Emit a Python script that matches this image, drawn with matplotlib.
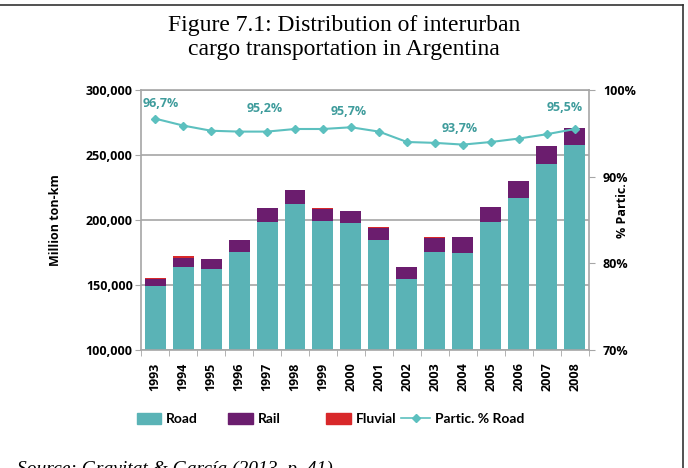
import matplotlib.pyplot as plt
import numpy as np
from matplotlib.lines import Line2D
from matplotlib.patches import Patch

# ===== DATA =====
years = ["1993", "1994", "1995", "1996", "1997", "1998", "1999", "2000",
         "2001", "2002", "2003", "2004", "2005", "2006", "2007", "2008"]
road = [149500, 164000, 162200, 175500, 198400, 212200, 199200, 198000,
        184700, 154300, 175500, 174700, 198400, 217200, 243400, 258000]
rail = [5000, 7000, 8000, 9000, 10500, 11000, 9000, 9000,
        9000, 9500, 11000, 12000, 11500, 12800, 13300, 12500]
fluvial = [1000, 1000, 100, 100, 100, 100, 1000, 100,
           1000, 100, 100, 100, 100, 100, 100, 100]
partic_road = [96.7, 95.9, 95.3, 95.2, 95.2, 95.5, 95.5, 95.7,
               95.2, 94.0, 93.9, 93.7, 94.0, 94.4, 94.9, 95.5]
labelled = {"1993": "96,7%", "1997": "95,2%", "2000": "95,7%",
            "2004": "93,7%", "2008": "95,5%"}
# label offsets from marker, in pixels (dx, dy up)
label_off = {"1993": (6, 15), "1997": (-2, 23), "2000": (-2, 16),
             "2004": (-3, 16), "2008": (-10, 21)}

# ===== STYLE =====
c_road = "#5ab3b6"
c_rail = "#6b1d6e"
c_fluv = "#d8282a"
c_line = "#5cc0bf"
c_lab = "#3f9c9c"
c_grid = "#a6a6a6"
sans = "Open Sans"
W, H = 688, 468

fig = plt.figure(figsize=(6.88, 4.68), dpi=100)
ax = fig.add_axes([0.205, 0.2521, 0.651, 0.5556])

x = np.arange(len(years))
road = np.array(road)
rail = np.array(rail)
fluvial = np.array(fluvial)
w = 0.75
ax.bar(x, road, w, color=c_road, zorder=2)
ax.bar(x, rail, w, bottom=road, color=c_rail, zorder=2)
ax.bar(x, fluvial, w, bottom=road + rail, color=c_fluv, zorder=2)

ax.set_ylim(100000, 300000)
ax.set_xlim(-0.5, len(years) - 0.5)
ax.set_yticks([100000, 150000, 200000, 250000, 300000])
ax.set_yticklabels([f"{v:,}" for v in ax.get_yticks()],
                   fontfamily=sans, fontweight="bold", fontsize=9)
ax.yaxis.grid(True, color=c_grid, linewidth=1.2, zorder=0)
ax.set_axisbelow(True)
ax.set_xticks(x)
ax.set_xticklabels(years, rotation=90, fontfamily=sans, fontweight="bold",
                   fontsize=9)
ax.set_xticks(np.arange(-0.5, len(years), 1), minor=True)
ax.tick_params(axis="x", which="major", length=0, pad=9)
ax.tick_params(axis="x", which="minor", length=4, color=c_grid)
ax.tick_params(axis="y", length=4, color=c_grid, pad=2)
for s in ax.spines.values():
    s.set_color(c_grid)
    s.set_linewidth(1.2)
ax.set_ylabel("Million ton-km", fontfamily=sans, fontweight="bold", fontsize=9)
ax.yaxis.set_label_coords(-0.176, 0.5)

# secondary axis for road share
ax2 = ax.twinx()
ax2.set_ylim(70, 100)
ax2.set_yticks([70, 80, 90, 100])
ax2.set_yticklabels([f"{v}%" for v in [70, 80, 90, 100]],
                    fontfamily=sans, fontweight="bold", fontsize=9)
ax2.tick_params(axis="y", length=4, color=c_grid, pad=6)
for s in ax2.spines.values():
    s.set_visible(False)
ax2.plot(x, partic_road, color=c_line, linewidth=1.5, marker="D",
         markersize=4.5, zorder=3)
for i, yr in enumerate(years):
    if yr in labelled:
        dx, dy = label_off[yr]
        ax2.annotate(labelled[yr], (x[i], partic_road[i]),
                     xytext=(dx * 0.72, dy * 0.72),
                     textcoords="offset points", ha="center", va="center",
                     color=c_lab, fontfamily=sans, fontweight="bold",
                     fontsize=9)
ax2.set_ylabel("% Partic.", fontfamily=sans, fontweight="bold", fontsize=9,
               rotation=90)
ax2.yaxis.set_label_coords(1.06, 0.538)

# Title
fig.text(0.5, 0.968, "Figure 7.1: Distribution of interurban\ncargo transportation in Argentina",
         ha="center", va="top", fontfamily="Liberation Serif", fontsize=17,
         linespacing=1.2)

# Legend: one entry per box so the uneven spacing can be kept
labels = ["Road", "Rail", "Fluvial", "Partic. % Road"]
handles = [Patch(color=c_road), Patch(color=c_rail), Patch(color=c_fluv),
           Line2D([], [], color=c_line, marker="D", markersize=4, linewidth=1.2)]
starts = [137, 228, 326, 401]
hlen = [1.75, 1.8, 1.8, 2.1]
for h, lab, sx, hl in zip(handles, labels, starts, hlen):
    fig.legend([h], [lab], loc="center left",
               bbox_to_anchor=(sx / W, 1 - 419 / H), frameon=False,
               borderpad=0, borderaxespad=0,
               prop={"family": "Lato", "weight": "bold", "size": 10},
               handlelength=hl, handleheight=0.9, handletextpad=0.35)

# source line, cut by the page edge
fig.text(17 / W, 1 - 461 / H, "Source: Gravitat & García (2013, p. 41)",
         ha="left", va="top", fontfamily="Liberation Serif", style="italic",
         fontsize=14)

# frame lines of the scanned page
fig.add_artist(Line2D([0, 0.993], [0.99, 0.99], color="#333333", linewidth=1.2))
fig.add_artist(Line2D([0.993, 0.993], [0.0, 0.99], color="#333333", linewidth=1.2))

plt.savefig("out.png", dpi=100)
